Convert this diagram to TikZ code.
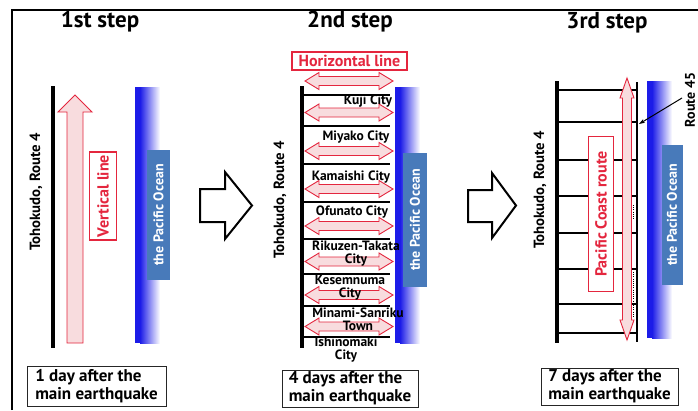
\documentclass[tikz,border=0pt]{standalone}
\usepackage{fontspec}
\setmainfont{PT Sans}
\usetikzlibrary{arrows.meta}
\definecolor{rd}{RGB}{228,38,62}
\definecolor{pk}{RGB}{248,220,222}
\definecolor{oblue}{RGB}{28,28,232}
\definecolor{steel}{RGB}{72,122,186}
\newcommand\hdarrow[3]{\draw[redarrow] (#1,#3) -- ({#1+14},{#3-8.5}) -- ({#1+14},{#3-4.5}) -- ({#2-14},{#3-4.5}) -- ({#2-14},{#3-8.5}) -- (#2,#3) -- ({#2-14},{#3+8.5}) -- ({#2-14},{#3+4.5}) -- ({#1+14},{#3+4.5}) -- ({#1+14},{#3+8.5}) -- cycle;}
\newcommand\oceanbar[3]{\fill[oblue] (#1,#2) rectangle ({#1+5},#3); \shade[left color=oblue, right color=white] ({#1+5},#2) rectangle ({#1+25},#3);}
\begin{document}
\begin{tikzpicture}[x=1pt,y=-1pt,
  title/.style={font=\fontsize{23}{25}\selectfont\bfseries},
  road/.style={line width=3.5pt, black},
  rung/.style={line width=2pt, black},
  roadlabel/.style={rotate=90, font=\fontsize{14.8}{16}\selectfont\bfseries},
  redbox/.style={draw=rd, line width=1.1pt, fill=white, text=rd, inner sep=0.5pt, font=\fontsize{16}{17}\selectfont\bfseries},
  oceanbox/.style={fill=steel, text=white, rotate=90, inner sep=0.5pt, font=\fontsize{14}{15}\selectfont\bfseries},
  daybox/.style={draw=black!85, line width=1pt, fill=white, align=left, inner sep=1pt, font=\fontsize{17}{18}\selectfont\bfseries},
  bigarrow/.style={draw=black, line width=2pt, fill=white, line join=miter},
  redarrow/.style={draw=rd, line width=0.9pt, fill=pk, line join=miter},
  city/.style={align=center, inner sep=0pt, font=\fontsize{13.5}{13}\selectfont\bfseries}
]
\useasboundingbox (0,0) rectangle (698,410);
\fill[white] (0,0) rectangle (698,410);
% frame
\draw[line width=1.5pt] (12,410) -- (12,10) -- (698,10);

% ---------- panel 1 ----------
\node[title] (t1) at (100,22) {1st step};
\draw[road] (53,86) -- (53,348);
\node[roadlabel] (r1) at (36,192) {Tohokudo, Route 4};
\draw[redarrow] (67,343) -- (67,112) -- (58,112) -- (75,95) -- (92,112) -- (83,112) -- (83,343) -- cycle;
\node[redbox, rotate=90, minimum width=88, minimum height=27] (v1) at (103,196) {Vertical line};
\oceanbar{135}{87}{343}
\node[oceanbox, minimum width=130, minimum height=23] (o1) at (158.5,215) {the Pacific Ocean};
\node[daybox, minimum width=139, minimum height=40] (d1) at (96.5,386) {1 day after the\\main earthquake};

% big arrow 1
\draw[bigarrow] (200,189) -- (225,189) -- (225,172) -- (252,205.5) -- (225,239) -- (225,222) -- (200,222) -- cycle;

% ---------- panel 2 ----------
\node[title] (t2) at (350,22) {2nd step};
\node[redbox, minimum width=115, minimum height=18] (h2) at (349.5,61) {Horizontal line};
\draw[road] (302,86) -- (302,348);
\foreach \yy in {95,126,164,202,239,274,306,337} \draw[rung] (302,\yy) -- (390,\yy);
\node[roadlabel] (r2) at (280,200) {Tohokudo, Route 4};
\foreach \yy in {81,112.5,151,189,226,261.5,295,326.5} {\hdarrow{305}{393}{\yy}}
\oceanbar{395}{87}{343}
\node[oceanbox, minimum width=134, minimum height=24] (o2) at (415,220) {the Pacific Ocean};
\node[city] (c1) at (368,101) {Kuji City};
\node[city] (c2) at (356,137) {Miyako City};
\node[city] (c3) at (351,177) {Kamaishi City};
\node[city] (c4) at (352,212) {Ofunato City};
\node[city] (c5) at (356,254) {Rikuzen-Takata\\City};
\node[city] (c6) at (350,288) {Kesemnuma\\City};
\node[city] (c7) at (358,319) {Minami-Sanriku\\Town};
\node[city] (c8) at (346,350) {Ishinomaki\\City};
\node[daybox, minimum width=136, minimum height=37] (d2) at (350,388.5) {4 days after the\\main earthquake};

% big arrow 2
\draw[bigarrow] (468,190) -- (492,190) -- (492,173) -- (516,205.5) -- (492,238) -- (492,222) -- (468,222) -- cycle;

% ---------- panel 3 ----------
\node[title] (t3) at (607,23) {3rd step};
\draw[road] (557,81) -- (557,343);
\draw[line width=2.8pt] (637,82) -- (637,342);
\foreach \yy in {90,122,160,196,233,269,304,333} \draw[rung] (557,\yy) -- (637,\yy);
\draw[line width=1.3pt, dash pattern=on 0.8pt off 1.4pt] (633.5,205) -- (633.5,220);
\draw[line width=1.3pt, dash pattern=on 0.8pt off 1.4pt] (633.5,272) -- (633.5,318);
\node[roadlabel] (r3) at (540,190) {Tohokudo, Route 4};
\draw[redarrow] (627,78) -- (634,98) -- (631.5,98) -- (631.5,320) -- (634,320) -- (627,340) -- (620,320) -- (622.5,320) -- (622.5,98) -- (620,98) -- cycle;
\node[redbox, rotate=90, minimum width=155, minimum height=25] (p3) at (601,214) {Pacific Coast route};
\oceanbar{647}{81}{338}
\node[oceanbox, minimum width=140, minimum height=21] (o3) at (672,215) {the Pacific Ocean};
\node[roadlabel, font=\fontsize{14}{15}\selectfont\bfseries] (rt45) at (690,100) {Route 45};
\coordinate (r45end) at (639,124);
\draw[line width=1pt, -{Stealth[length=6pt,width=4pt]}] (682,98) -- (r45end);
\node[daybox, minimum width=137, minimum height=37] (d3) at (609.5,386.5) {7 days after the\\main earthquake};
\end{tikzpicture}
\end{document}
